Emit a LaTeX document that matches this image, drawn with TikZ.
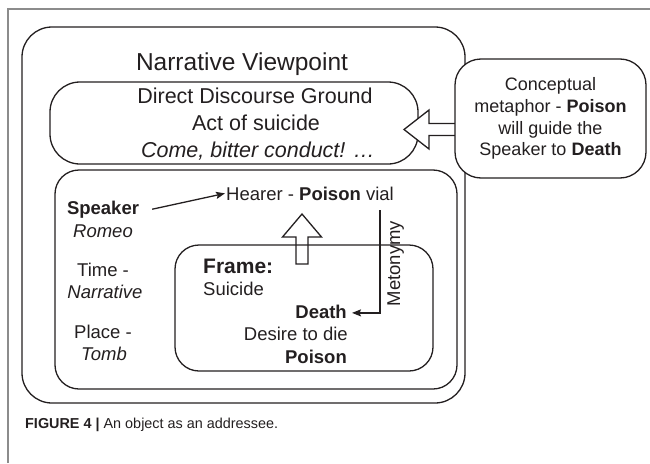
\documentclass[tikz,border=0pt]{standalone}
\usepackage{fontspec}
\setmainfont{Liberation Sans}
\usetikzlibrary{arrows.meta}
\definecolor{ink}{HTML}{231F20}
\definecolor{rulegray}{HTML}{8C8C8C}
\begin{document}
\begin{tikzpicture}[x=1pt,y=-1pt,
  box/.style={draw=ink, line width=1.3pt, rounded corners=#1, inner sep=0pt},
  txt/.style={text=ink, inner sep=0pt, anchor=base},
  big/.style={font=\fontsize{24.5}{28}\selectfont},
  mid/.style={font=\fontsize{21.5}{26}\selectfont},
  small/.style={font=\fontsize{18.5}{22}\selectfont},
  hollow/.style={draw=ink, line width=1.3pt, line join=miter},
  link/.style={draw=ink, line width=1.3pt, -{Stealth[length=9pt,width=7pt,inset=1.5pt]}}]
\useasboundingbox (0,0) rectangle (650,463);

% page frame
\draw[rulegray, line width=1.5pt] (8,463) -- (8,9) -- (650,9);

% nested boxes
\node[box=30, minimum width=443pt, minimum height=376pt] (nv) at (243.5,215) {};
\node[box=30, minimum width=368pt, minimum height=82pt] (ddg) at (234,123) {};
\node[box=24, minimum width=402pt, minimum height=219pt] (scene) at (256,279.5) {};
\node[box=24, minimum width=258pt, minimum height=126pt] (frame) at (304,308) {};

% narrative viewpoint and discourse ground
\node[txt, big] (title) at (242,70) {Narrative Viewpoint};
\node[txt, mid] (ddgtitle) at (255,103) {Direct Discourse Ground};
\node[txt, mid] (act) at (256,130) {Act of suicide};
\node[txt, mid] (quote) at (258,157) {\itshape Come, bitter conduct! …};

% participants, time and place
\node[txt, small] (speaker) at (103,214) {\bfseries Speaker};
\node[txt, small] (romeo) at (103,237) {\itshape Romeo};
\node[txt, small] (time) at (103,276) {Time -};
\node[txt, small] (narr) at (105,298) {\itshape Narrative};
\node[txt, small] (place) at (103,338) {Place -};
\node[txt, small] (tomb) at (104,360) {\itshape Tomb};
\node[txt, small] (hearer) at (310,200) {Hearer - \textbf{Poison} vial};

% frame contents
\node[txt, anchor=base west, font=\fontsize{21}{25}\selectfont\bfseries] (frametitle) at (203,273) {Frame:};
\node[txt, small, anchor=base west] (suicide) at (203,295) {Suicide};
\node[txt, small, anchor=base east] (death) at (347,318) {\bfseries Death};
\node[txt, small, anchor=base east] (desire) at (348,340) {Desire to die};
\node[txt, small, anchor=base east] (poison) at (347,363) {\bfseries Poison};

% metonymy link
\node[txt, small, rotate=90] (meto) at (400,263.5) {Metonymy};
\draw[link] ([shift={(70,10)}]hearer.south) |- ([shift={(5,1.5)}]death.east);
\draw[link] ([shift={(13,0)}]speaker.east) -- ([shift={(-1,0)}]hearer.west);

% hollow arrow from the frame up to the hearer
\coordinate (utip) at (302,214);
\draw[hollow] (utip) -- ++(19.5,23) -- ++(-13.5,0) -- ++(0,27) -- ++(-12,0)
  -- ++(0,-27) -- ++(-13.5,0) -- cycle;

% hollow arrow from the conceptual metaphor into the discourse ground
\coordinate (ltip) at (404,129.5);
\draw[hollow, fill=white] (ltip) -- ++(25,-19.5) -- ++(0,13.5) -- ++(27,0)
  -- ++(0,12) -- ++(-27,0) -- ++(0,13.5) -- cycle;

% conceptual metaphor
\node[box=26, fill=white, minimum width=191pt, minimum height=119pt,
      align=center, text=ink, font=\fontsize{18}{21.7}\selectfont] (cm) at (550.5,118.5)
  {Conceptual\\metaphor - \textbf{Poison}\\will guide the\\Speaker to \textbf{Death}};

% caption
\node[txt, anchor=base west, font=\fontsize{14.4}{17}\selectfont] (caption) at (25,428)
  {\textbf{FIGURE 4 |} An object as an addressee.};
\end{tikzpicture}
\end{document}
